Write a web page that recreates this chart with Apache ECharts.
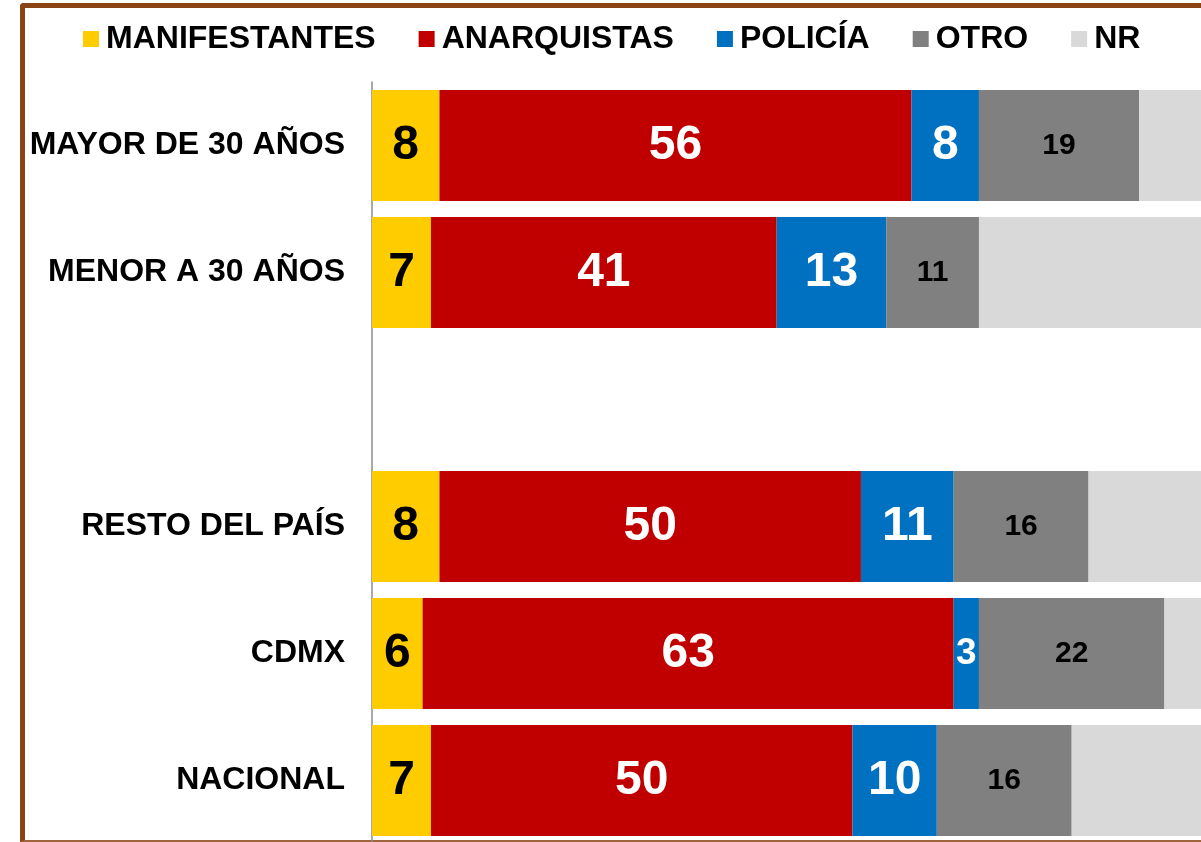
<!DOCTYPE html>
<html lang="es">
<head>
  <meta charset="UTF-8">
  <title>Responsables</title>
  <script src="https://cdn.jsdelivr.net/npm/echarts@6/dist/echarts.min.js"></script>
  <style>
    html, body { margin: 0; padding: 0; overflow: hidden; background: #fff; }
    #frame {
      position: absolute; left: 20px; top: 3px; width: 1300px; height: 832px;
      border-left: 5px solid #8a4314; border-top: 5px solid #8a4314; border-bottom: 2px solid #a0643c;
      border-top-left-radius: 4px;
    }
    #main { position: absolute; left: 0; top: 0; width: 1201px; height: 842px; }
  </style>
</head>
<body>
  <div id="frame"></div>
  <div id="main"></div>
  <script type="text/javascript">
    // categories, top to bottom (the empty one is the gap between groups)
    var categories = ['MAYOR DE 30 AÑOS', 'MENOR A 30 AÑOS', '', 'RESTO DEL PAÍS', 'CDMX', 'NACIONAL'];

    var manifestantes = [8, 7, '-', 8, 6, 7];
    var anarquistas = [56, 41, '-', 50, 63, 50];
    var policia = [8, 13, '-', 11, 3, 10];
    var otro = [19, 11, '-', 16, 22, 16];
    var nr = [9, 28, '-', 15, 6, 17];

    var seriesNames = ['MANIFESTANTES', 'ANARQUISTAS', 'POLICÍA', 'OTRO', 'NR'];
    var colors = ['#ffcc00', '#c00000', '#0070c0', '#808080', '#d9d9d9'];

    var font = 'Liberation Sans, Arial, sans-serif';
    var myChart = echarts.init(document.getElementById('main'));

    function bigLabel(color) {
      return { show: true, position: 'inside', color: color, fontSize: 48, fontWeight: 'bold', fontFamily: font };
    }

    // the narrow police segment of CDMX gets a smaller label
    var policiaData = policia.map(function (v, i) {
      if (i === 4) return { value: v, label: { fontSize: 37 } };
      return v;
    });

    var option = {
      animation: false,
      color: colors,
      legend: {
        left: 83,
        top: 23,
        padding: 0,
        itemWidth: 16,
        itemHeight: 16,
        itemGap: 43,
        icon: 'rect',
        textStyle: { fontSize: 32, fontWeight: 'bold', color: '#000', fontFamily: font, lineHeight: 32, padding: [0, 0, 0, 2] },
        data: seriesNames
      },
      // the plot runs past the right edge of the picture, so NR is cut off
      grid: { left: 372, top: 82, width: 843, height: 762, outerBoundsMode: 'none' },
      xAxis: { type: 'value', min: 0, max: 100, show: false },
      yAxis: {
        type: 'category',
        inverse: true,
        data: categories,
        axisLine: { lineStyle: { color: '#8c8c8c', width: 1.5 } },
        axisTick: { length: 6, lineStyle: { color: '#8c8c8c', width: 1.5 } },
        axisLabel: { margin: 27, color: '#000', fontSize: 32, fontWeight: 'bold', fontFamily: font }
      },
      series: [
        { name: seriesNames[0], type: 'bar', stack: 't', barCategoryGap: '12.6%', data: manifestantes, label: bigLabel('#000') },
        { name: seriesNames[1], type: 'bar', stack: 't', data: anarquistas, label: bigLabel('#fff') },
        { name: seriesNames[2], type: 'bar', stack: 't', data: policiaData, label: bigLabel('#fff') },
        { name: seriesNames[3], type: 'bar', stack: 't', data: otro,
          label: { show: true, position: 'inside', color: '#000', fontSize: 30, fontWeight: 'bold', fontFamily: font } },
        { name: seriesNames[4], type: 'bar', stack: 't', data: nr, label: { show: false } }
      ]
    };

    myChart.setOption(option);
  </script>
</body>
</html>
